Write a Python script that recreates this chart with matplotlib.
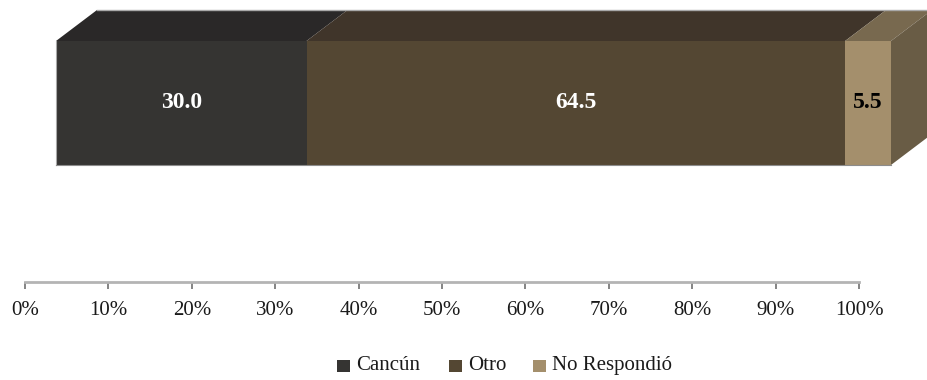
import matplotlib
matplotlib.use("Agg")
import matplotlib.pyplot as plt
from matplotlib.patches import Polygon, Rectangle

categories = ["Cancún", "Otro", "No Respondió"]
values = [30.0, 64.5, 5.5]
value_labels = ["30.0", "64.5", "5.5"]
label_colors = ["white", "white", "black"]
front_colors = ["#353432", "#544733", "#A48F6C"]
top_colors = ["#2A2828", "#40352A", "#78694F"]
side_color = "#695C45"
axis_ticks = [0, 10, 20, 30, 40, 50, 60, 70, 80, 90, 100]

W, H = 927, 380
plt.rcParams["font.family"] = ["Liberation Serif", "DejaVu Serif"]

fig = plt.figure(figsize=(W / 100, H / 100), dpi=100, facecolor="white")


def px_axes(left, top, right, bottom):
    return fig.add_axes([left / W, 1 - bottom / H, (right - left) / W, (bottom - top) / H])


# bar front face, depth drawn as offset polygons
ax = px_axes(56, 41, 891, 165)
ax.set_xlim(0, 100)
ax.set_ylim(0, 1)
ax.axis("off")

dx = 41 / 835 * 100
dy = 31 / 124

left = 0
for val, txt, tc, fc, top in zip(values, value_labels, label_colors, front_colors, top_colors):
    ax.add_patch(Rectangle((left, 0), val, 1, facecolor=fc, edgecolor="none", clip_on=False))
    ax.add_patch(Polygon([(left, 1), (left + val, 1), (left + val + dx, 1 + dy), (left + dx, 1 + dy)],
                         facecolor=top, edgecolor="none", clip_on=False))
    ax.text(left + val / 2, 0.5, txt, color=tc, fontsize=17, fontweight="bold",
            ha="center", va="center")
    left += val

ax.add_patch(Polygon([(100, 0), (100 + dx, dy), (100 + dx, 1 + dy), (100, 1)],
                     facecolor=side_color, edgecolor="none", clip_on=False))
# thin grey edges
ax.plot([dx, 100 + dx], [1 + dy, 1 + dy], color="#A9A9A9", lw=1, clip_on=False)
ax.plot([0, 0], [0, 1], color="#A9A9A9", lw=0.8, clip_on=False)
ax.plot([0, 100], [0, 0], color="#8C8C8C", lw=0.8, clip_on=False)

# percent axis
ax2 = px_axes(25, 200, 859, 282)
ax2.set_xlim(0, 100)
ax2.set_ylim(0, 1)
ax2.patch.set_alpha(0)
for s in ["top", "left", "right"]:
    ax2.spines[s].set_visible(False)
ax2.spines["bottom"].set_color("#B4B4B4")
ax2.spines["bottom"].set_linewidth(2)
ax2.set_yticks([])
ax2.set_xticks(axis_ticks)
ax2.set_xticklabels([f"{t}%" for t in axis_ticks], fontsize=15, color="#1A1A1A")
ax2.tick_params(axis="x", length=5, width=1.2, color="#707070", pad=9)

# legend placed by hand, the column gaps are uneven in the original
legend_x = [337, 449, 533]
for name, col, x in zip(categories, front_colors, legend_x):
    fig.patches.append(Rectangle((x / W, 1 - 372 / H), 12.5 / W, 12.5 / H, facecolor=col,
                                 edgecolor="none", transform=fig.transFigure))
    fig.text((x + 19) / W, 1 - 365.5 / H, name, fontsize=15, color="#1A1A1A", ha="left", va="center")

fig.savefig("out.png", dpi=100)
